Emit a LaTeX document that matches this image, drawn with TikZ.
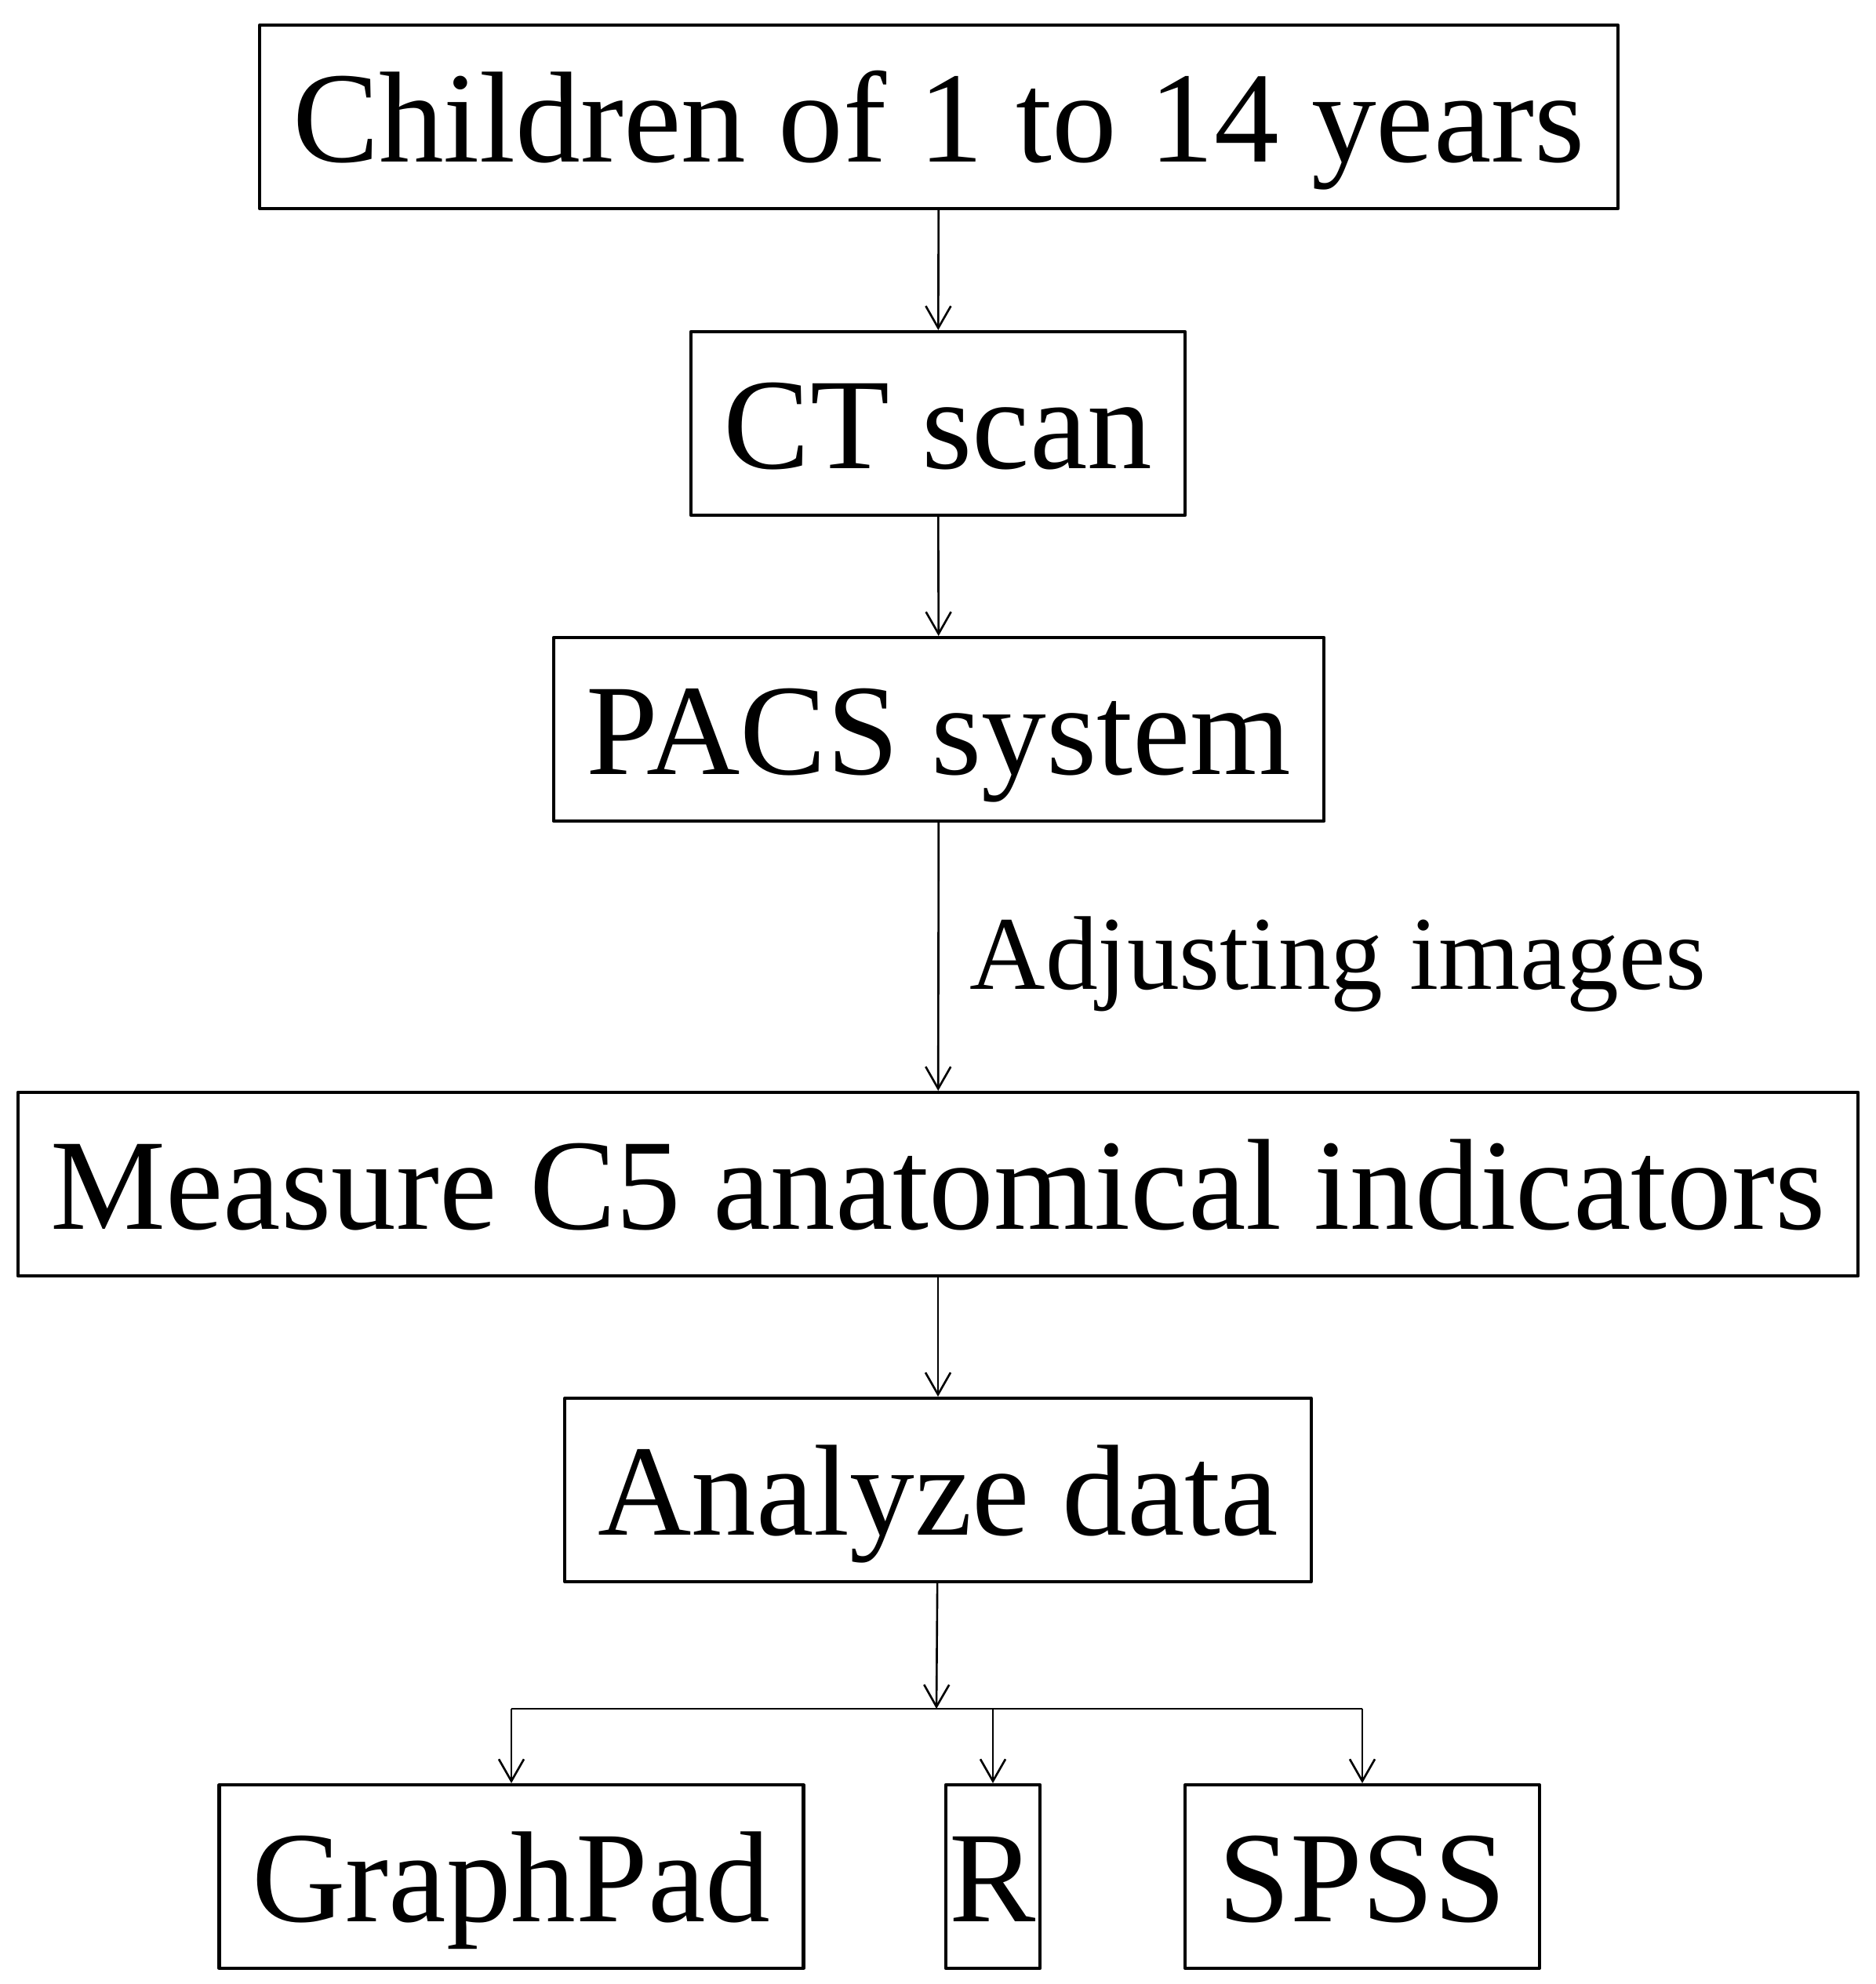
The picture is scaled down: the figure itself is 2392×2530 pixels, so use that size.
\documentclass[tikz,border=0pt]{standalone}
\usepackage{fontspec}
\setmainfont{Liberation Serif}
\usetikzlibrary{arrows.meta,positioning}
\begin{document}
\begin{tikzpicture}[x=0.01cm,y=-0.01cm,line join=round,
	>={Straight Barb[length=0.28cm,width=0.32cm]},
	box/.style={draw,line width=1.15pt,inner xsep=0.42cm,inner ysep=0pt,
		text height=1.74cm,text depth=0.6cm,font=\fontsize{47pt}{50pt}\selectfont},
	lien/.style={->,line width=0.75pt}]
	%% khung
	\useasboundingbox (0,0) rectangle (2392,2530);
	%% cac o
	\node[box] (child) at (1197,149) {Children of 1 to 14 years};
	\node[box] (ct) at (1196,540) {CT scan};
	\node[box] (pacs) at (1197,930) {PACS system};
	\node[box] (meas) at (1196,1510) {Measure C5 anatomical indicators};
	\node[box] (ana) at (1196,1900) {Analyze data};
	\node[box] (gp) at (652,2393) {GraphPad};
	\node[box,inner xsep=0.05cm] (r) at (1266,2393) {R};
	\node[box] (sp) at (1737,2393) {SPSS};
	\coordinate (br) at (1194,2179);
	
	%% mui ten
	\draw[lien] (child) -- (ct);
	\draw[lien] (ct) -- (pacs);
	\draw[lien] (pacs) -- node[right,font=\fontsize{38pt}{40pt}\selectfont,xshift=0.27cm,yshift=-0.1cm]{Adjusting images} (meas);
	\draw[lien] (meas) -- (ana);
	\draw[lien] (ana) -- (br);
	\draw[line width=0.75pt] (gp.north |- br) -- (sp.north |- br);
	\foreach \x in {gp,r,sp}
	\draw[lien] (\x.north |- br) -- (\x.north);
\end{tikzpicture}
\end{document}
